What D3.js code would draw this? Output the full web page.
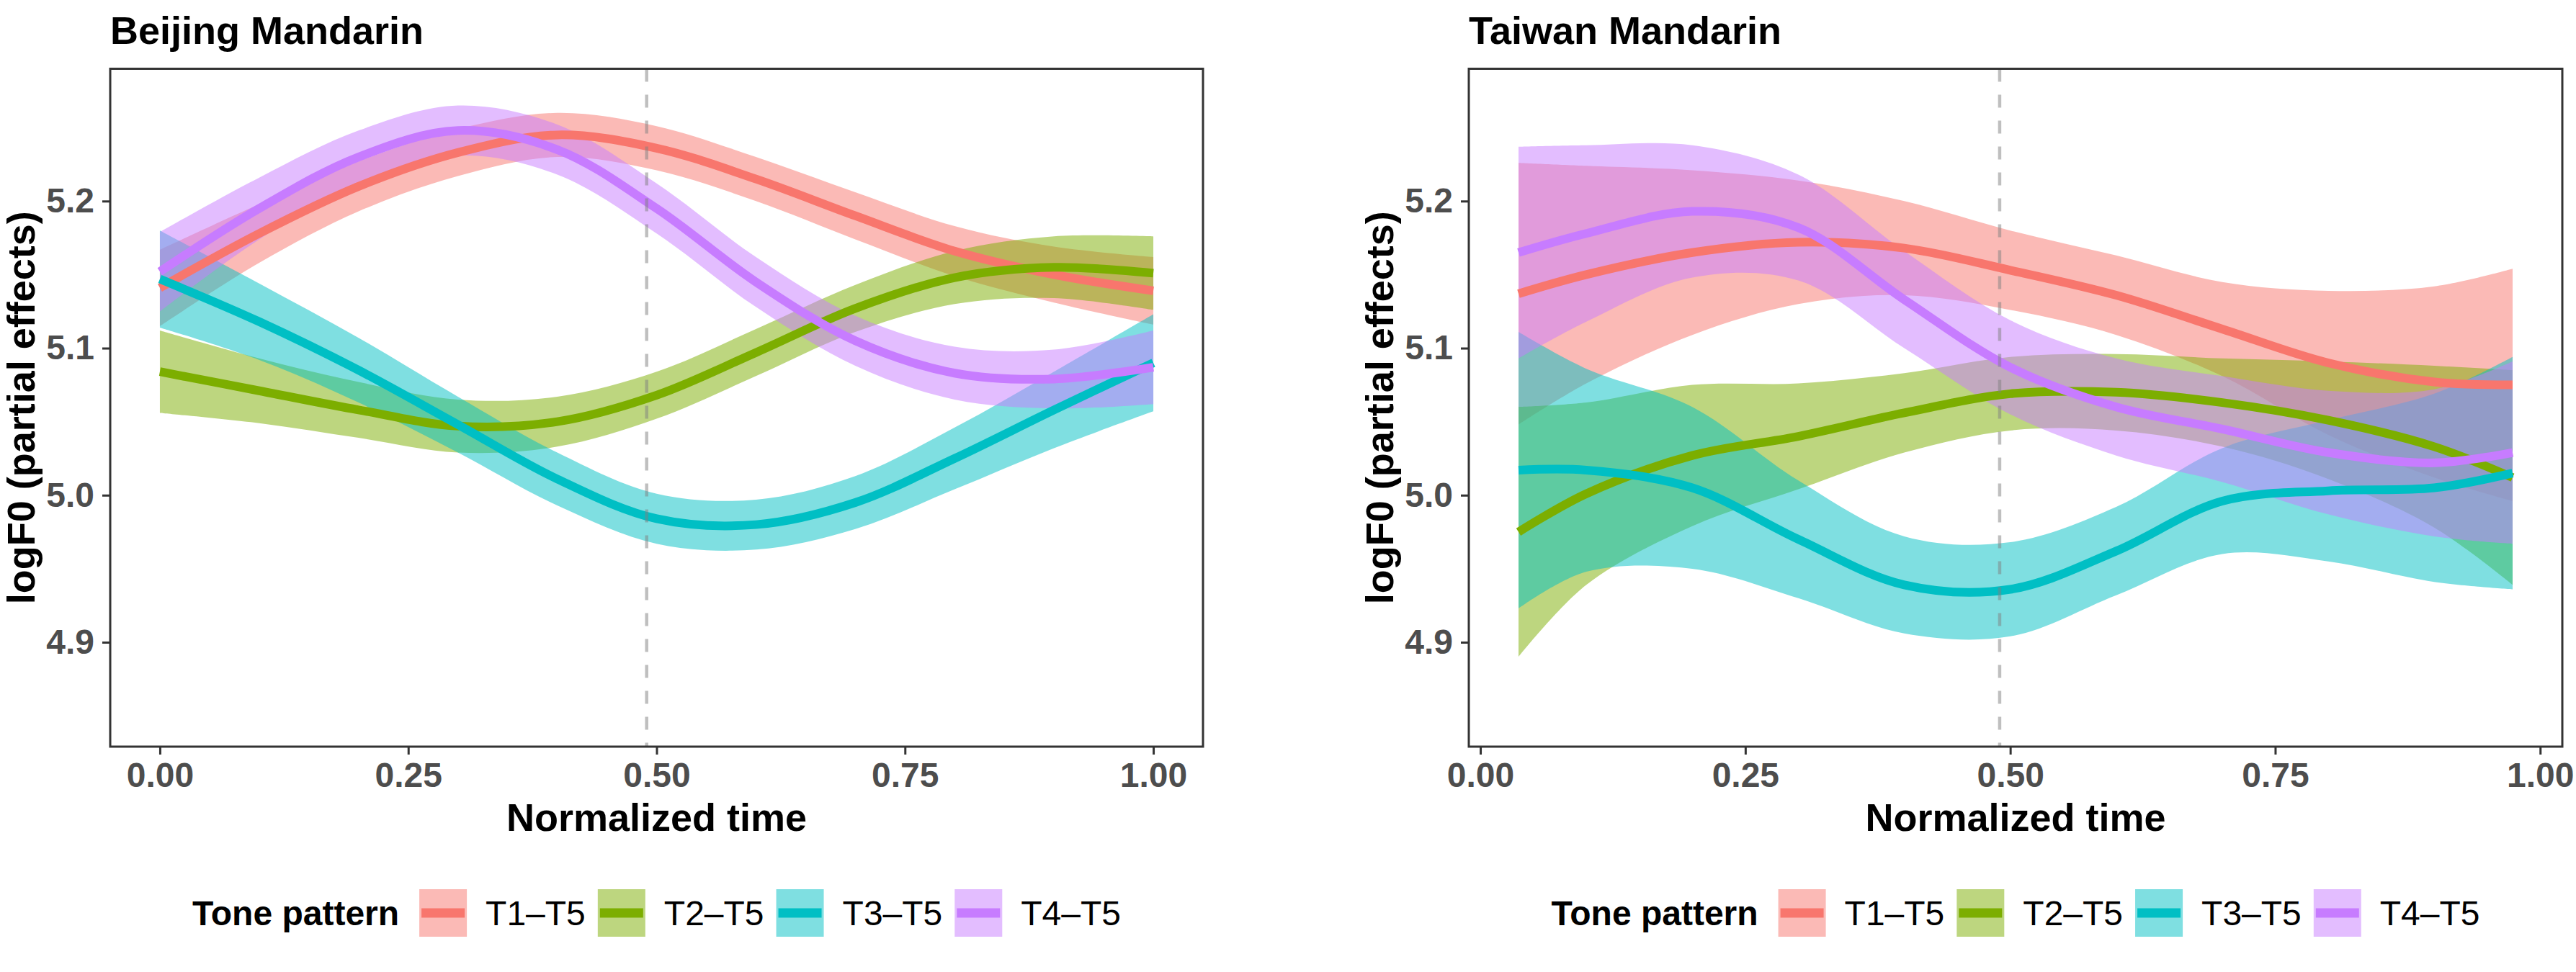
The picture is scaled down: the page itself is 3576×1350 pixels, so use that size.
<!DOCTYPE html>
<html>
<head>
<meta charset="utf-8">
<script src="https://cdn.jsdelivr.net/npm/d3@7"></script>
<style>
  body{margin:0;background:#fff;}
  svg{display:block;font-family:"Liberation Sans",Arial,sans-serif;}
</style>
</head>
<body>
<svg id="chart" width="3576" height="1350"></svg>
<script>
// tone patterns + ggplot hue colours
const toneLevels=["T1\u2013T5","T2\u2013T5","T3\u2013T5","T4\u2013T5"];
const toneColors=["#F8766D","#7CAE00","#00BFC4","#C77CFF"];

const xTicks=[0,0.25,0.5,0.75,1];
const yTicks=[4.9,5.0,5.1,5.2];
const yLimits=[4.829,5.290];
const vlineAt=0.49;

// Beijing Mandarin: fitted smooths and half-width of the CI band
const bjTime=[0,0.1,0.2,0.3,0.4,0.5,0.6,0.7,0.8,0.9,1.0];
const bjFitT1=[5.141,5.178,5.210,5.233,5.245,5.236,5.215,5.190,5.166,5.150,5.139];
const bjFitT2=[5.084,5.071,5.058,5.047,5.050,5.068,5.097,5.127,5.148,5.155,5.151];
const bjFitT3=[5.147,5.118,5.085,5.048,5.011,4.984,4.980,4.995,5.025,5.058,5.090];
const bjFitT4=[5.152,5.195,5.230,5.248,5.235,5.195,5.145,5.105,5.083,5.079,5.087];
const bjHalfT1=[0.026,0.020,0.017,0.016,0.015,0.015,0.015,0.016,0.017,0.019,0.023];
const bjHalfT2=[0.028,0.022,0.019,0.018,0.017,0.016,0.016,0.016,0.018,0.021,0.025];
const bjHalfT3=[0.033,0.026,0.022,0.019,0.018,0.017,0.017,0.018,0.021,0.026,0.033];
const bjHalfT4=[0.027,0.021,0.018,0.017,0.017,0.017,0.017,0.017,0.018,0.020,0.025];

// Taiwan Mandarin
const twTime=[0.036,0.1,0.2,0.3,0.4,0.5,0.6,0.7,0.8,0.9,0.974];
const twFitT1=[5.137,5.150,5.165,5.172,5.168,5.153,5.136,5.113,5.090,5.077,5.075];
const twFitT2=[4.975,5.001,5.027,5.040,5.056,5.069,5.070,5.063,5.051,5.033,5.012];
const twFitT3=[5.017,5.017,5.005,4.970,4.939,4.936,4.962,4.996,5.003,5.005,5.015];
const twFitT4=[5.165,5.178,5.193,5.182,5.133,5.087,5.060,5.045,5.029,5.022,5.029];
const twHalfT1=[0.089,0.074,0.056,0.042,0.032,0.027,0.027,0.032,0.049,0.065,0.079];
const twHalfT2=[0.085,0.062,0.048,0.036,0.027,0.025,0.026,0.030,0.040,0.055,0.073];
const twHalfT3=[0.094,0.069,0.055,0.040,0.033,0.032,0.030,0.036,0.048,0.064,0.079];
const twHalfT4=[0.072,0.060,0.045,0.036,0.033,0.032,0.033,0.036,0.042,0.050,0.062];

const panels=[
  {title:"Beijing Mandarin",left:153,right:1670,time:bjTime,
   fits:[bjFitT1,bjFitT2,bjFitT3,bjFitT4],halves:[bjHalfT1,bjHalfT2,bjHalfT3,bjHalfT4]},
  {title:"Taiwan Mandarin",left:2039,right:3557,time:twTime,
   fits:[twFitT1,twFitT2,twFitT3,twFitT4],halves:[twHalfT1,twHalfT2,twHalfT3,twHalfT4]}
];

const panelTop=95.5,panelBottom=1037;
const svg=d3.select("#chart");
svg.append("rect").attr("width",3576).attr("height",1350).attr("fill","#fff");

// ggplot style 5% expansion of the data range
const expand=(ext)=>{
  let pad=(ext[1]-ext[0])*0.05;
  return [ext[0]-pad,ext[1]+pad];
}

const drawLegend=(g,cx)=>{
  let leg=g.append("g").attr("class","legend");
  let cy=1268,key=66;
  let title=leg.append("text")
    .attr("y",cy).attr("dy","0.35em")
    .attr("font-size",48).attr("font-weight","bold")
    .text("Tone pattern");
  let x=title.node().getComputedTextLength()+28;
  toneLevels.forEach((lab,i)=>{
    leg.append("rect")
      .attr("x",x).attr("y",cy-key/2)
      .attr("width",key).attr("height",key)
      .attr("fill",toneColors[i]).attr("fill-opacity",0.5);
    leg.append("line")
      .attr("x1",x+3).attr("x2",x+key-3)
      .attr("y1",cy).attr("y2",cy)
      .attr("stroke",toneColors[i]).attr("stroke-width",13);
    let t=leg.append("text")
      .attr("x",x+key+26).attr("y",cy).attr("dy","0.35em")
      .attr("font-size",48)
      .text(lab);
    x+=key+26+t.node().getComputedTextLength()+17;
  });
  let total=x-17;
  leg.attr("transform",`translate(${cx-total/2},0)`);
}

panels.forEach((p,pi)=>{
  let x=d3.scaleLinear().domain(expand(d3.extent(p.time))).range([p.left,p.right]);
  let y=d3.scaleLinear().domain(yLimits).range([panelBottom,panelTop]);
  let g=svg.append("g");

  g.append("clipPath").attr("id",`clip${pi}`)
    .append("rect")
      .attr("x",p.left).attr("y",panelTop)
      .attr("width",p.right-p.left).attr("height",panelBottom-panelTop);

  let plot=g.append("g").attr("clip-path",`url(#clip${pi})`);

  let area=d3.area()
    .x((d)=>x(d.t))
    .y0((d)=>y(d.fit-d.half))
    .y1((d)=>y(d.fit+d.half))
    .curve(d3.curveCatmullRom);
  let line=d3.line()
    .x((d)=>x(d.t))
    .y((d)=>y(d.fit))
    .curve(d3.curveCatmullRom);

  let series=p.fits.map((f,i)=>p.time.map((t,j)=>({t:t,fit:f[j],half:p.halves[i][j]})));

  plot.selectAll(".band")
    .data(series)
    .enter()
      .append("path")
      .attr("class","band")
      .attr("d",area)
      .attr("fill",(d,i)=>toneColors[i])
      .attr("fill-opacity",0.5);

  plot.selectAll(".fit")
    .data(series)
    .enter()
      .append("path")
      .attr("class","fit")
      .attr("d",line)
      .attr("fill","none")
      .attr("stroke",(d,i)=>toneColors[i])
      .attr("stroke-width",12);

  plot.append("line")
    .attr("x1",x(vlineAt)).attr("x2",x(vlineAt))
    .attr("y1",panelTop).attr("y2",panelBottom)
    .attr("stroke","#7f7f7f").attr("stroke-opacity",0.5)
    .attr("stroke-width",4.5)
    .attr("stroke-dasharray","18,18");

  g.append("rect")
    .attr("x",p.left).attr("y",panelTop)
    .attr("width",p.right-p.left).attr("height",panelBottom-panelTop)
    .attr("fill","none").attr("stroke","#333333").attr("stroke-width",3);

  let xAxis=g.append("g")
    .attr("transform",`translate(0,${panelBottom})`)
    .call(d3.axisBottom(x).tickValues(xTicks).tickFormat(d3.format(".2f")).tickSize(11).tickPadding(11));
  let yAxis=g.append("g")
    .attr("transform",`translate(${p.left},0)`)
    .call(d3.axisLeft(y).tickValues(yTicks).tickFormat(d3.format(".1f")).tickSize(11).tickPadding(11));
  [xAxis,yAxis].forEach((a)=>{
    a.attr("font-size",48).attr("font-family","Liberation Sans, Arial, sans-serif")
      .attr("font-weight","bold");
    a.select(".domain").remove();
    a.selectAll(".tick line").attr("stroke","#333333").attr("stroke-width",3);
    a.selectAll(".tick text").attr("fill","#4d4d4d");
  });

  g.append("text")
    .attr("x",p.left).attr("y",61)
    .attr("font-size",54).attr("font-weight","bold")
    .text(p.title);

  let cx=(p.left+p.right)/2;
  g.append("text")
    .attr("x",cx).attr("y",1154)
    .attr("text-anchor","middle")
    .attr("font-size",54).attr("font-weight","bold")
    .text("Normalized time");

  g.append("text")
    .attr("transform",`translate(${p.left-105},${(panelTop+panelBottom)/2}) rotate(-90)`)
    .attr("text-anchor","middle")
    .attr("font-size",54).attr("font-weight","bold")
    .text("logF0 (partial effects)");

  drawLegend(g,cx);
});
</script>
</body>
</html>
